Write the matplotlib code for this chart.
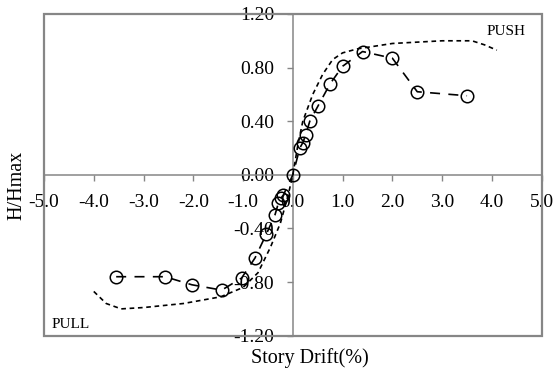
import matplotlib
matplotlib.use("Agg")
import matplotlib.pyplot as plt
from matplotlib.patches import Rectangle

# Experimental points (story drift %, H/Hmax)
test_drift = [-3.55, -2.57, -2.03, -1.43, -1.03, -0.76, -0.53, -0.36, -0.29, -0.23, -0.19,
              0.0, 0.14, 0.20, 0.26, 0.34, 0.50, 0.75, 1.00, 1.40, 2.00, 2.50, 3.50]
test_ratio = [-0.76, -0.76, -0.82, -0.86, -0.77, -0.62, -0.44, -0.30, -0.21, -0.17, -0.15,
              0.0, 0.20, 0.24, 0.30, 0.40, 0.51, 0.68, 0.81, 0.92, 0.87, 0.62, 0.59]

# Analytical curve
curve_drift = [-4.0, -3.75, -3.45, -3.0, -2.2, -1.45, -1.0, -0.7, -0.45, -0.25, -0.1,
               0.0, 0.1, 0.2, 0.4, 0.6, 0.8, 1.0, 1.3, 2.0, 3.0, 3.6, 3.85, 4.1]
curve_ratio = [-0.87, -0.96, -1.0, -0.99, -0.96, -0.91, -0.84, -0.73, -0.54, -0.36, -0.16,
               0.0, 0.22, 0.40, 0.60, 0.75, 0.86, 0.91, 0.94, 0.98, 1.0, 1.0, 0.97, 0.93]

x_ticks = [-5.0, -4.0, -3.0, -2.0, -1.0, 0.0, 1.0, 2.0, 3.0, 4.0, 5.0]
y_ticks = [-1.20, -0.80, -0.40, 0.00, 0.40, 0.80, 1.20]

plt.rcParams['font.family'] = ['Liberation Serif', 'DejaVu Serif']
plt.rcParams['axes.unicode_minus'] = False

fig = plt.figure(figsize=(5.55, 3.76), dpi=100)
ax = fig.add_axes([0.0793, 0.1072, 0.976 - 0.0793, 0.9628 - 0.1072])

frame_col = '#868686'

ax.plot(curve_drift, curve_ratio, color='black', lw=1.2, linestyle=(0, (2.8, 2.2)), zorder=3)
ax.plot(test_drift, test_ratio, color='black', lw=1.2, linestyle=(0, (6, 5)),
        marker='o', markersize=9, mfc='none', mec='black', mew=1.1, zorder=4)

ax.set_xlim(-5, 5)
ax.set_ylim(-1.2, 1.2)

ax.spines['left'].set_position(('data', 0))
ax.spines['bottom'].set_position(('data', 0))
ax.spines['top'].set_visible(False)
ax.spines['right'].set_visible(False)
for s in ('left', 'bottom'):
    ax.spines[s].set_color(frame_col)
    ax.spines[s].set_linewidth(1.1)

ax.add_patch(Rectangle((0, 0), 1, 1, transform=ax.transAxes, fill=False,
                       edgecolor=frame_col, lw=1.6, zorder=5, clip_on=False))

ax.set_xticks(x_ticks)
ax.set_xticklabels([f"{v:.1f}" for v in x_ticks])
ax.set_yticks(y_ticks)
ax.set_yticklabels([f"{v:.2f}" for v in y_ticks])
ax.tick_params(axis='both', direction='out', length=4.5, width=1.0, color=frame_col,
               labelsize=14, pad=9)

ax.set_xlabel('Story Drift(%)', fontsize=14.5)
ax.set_ylabel('H/Hmax', fontsize=14.5)
ax.xaxis.set_label_coords(0.535, -0.04)
ax.yaxis.set_label_coords(-0.036, 0.468)

ax.text(0.89, 0.935, 'PUSH', transform=ax.transAxes, fontsize=11)
ax.text(0.015, 0.025, 'PULL', transform=ax.transAxes, fontsize=11)

fig.savefig('out.png', dpi=100)
